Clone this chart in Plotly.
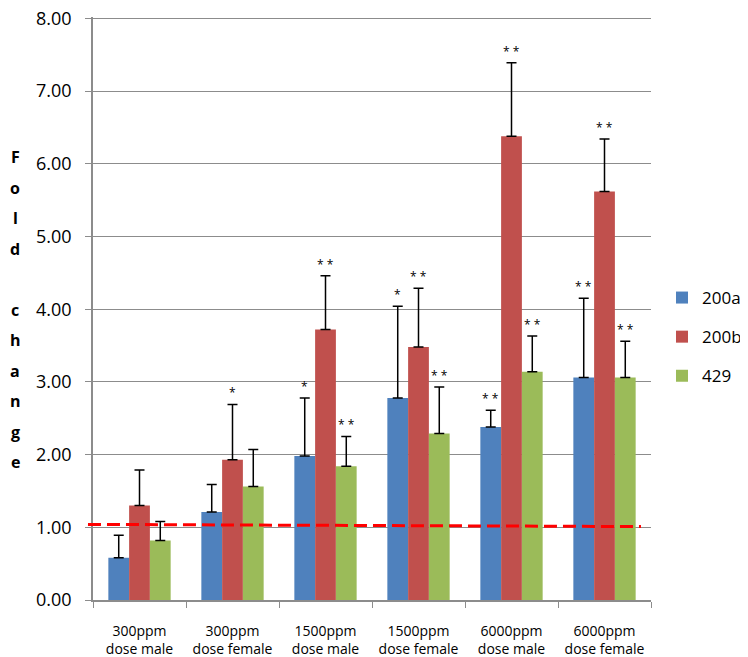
import plotly.graph_objects as go

categories = ["300ppm<br>dose male", "300ppm<br>dose female", "1500ppm<br>dose male",
              "1500ppm<br>dose female", "6000ppm<br>dose male", "6000ppm<br>dose female"]
series_names = ["200a", "200b", "429"]
values_200a = [0.58, 1.21, 1.98, 2.78, 2.38, 3.06]
values_200b = [1.30, 1.93, 3.72, 3.48, 6.38, 5.62]
values_429 = [0.82, 1.56, 1.84, 2.29, 3.14, 3.06]
err_200a = [0.31, 0.38, 0.80, 1.26, 0.23, 1.09]
err_200b = [0.49, 0.76, 0.74, 0.81, 1.01, 0.72]
err_429 = [0.26, 0.51, 0.41, 0.64, 0.49, 0.50]
stars_200a = ["", "", "*", "*", "* *", "* *"]
stars_200b = ["", "*", "* *", "* *", "* *", "* *"]
stars_429 = ["", "", "* *", "* *", "* *", "* *"]
colors = ["#4F81BD", "#C0504D", "#9BBB59"]
ref_line_y = [1.04, 1.01]
y_ticks = [0, 1, 2, 3, 4, 5, 6, 7, 8]
y_title = "Fold change"

values = [values_200a, values_200b, values_429]
errs = [err_200a, err_200b, err_429]
stars = [stars_200a, stars_200b, stars_429]

FONT = "Open Sans"
W, H = 740, 649          # page body has an 8px margin
L, T, PW, PH = 85, 9, 558, 583

fig = go.Figure()
for i, name in enumerate(series_names):
    fig.add_trace(go.Bar(
        x=categories, y=values[i], name=name, marker_color=colors[i],
        marker_line_width=0, legendgroup=name,
        error_y=dict(type="data", array=errs[i], arrayminus=[0] * len(errs[i]),
                     symmetric=False, color="black", thickness=1.5, width=5),
    ))

offsets = [-1, 0, 1]
annotations = []
bar_w = (1 - 0.33) / 3
for i in range(3):
    for j, cat in enumerate(categories):
        if stars[i][j]:
            annotations.append(dict(
                x=j + offsets[i] * bar_w, y=values[i][j] + errs[i][j], xref="x", yref="y",
                text=stars[i][j], showarrow=False, yanchor="bottom", yshift=1,
                font=dict(family=FONT, size=12, color="black")))

# vertical stacked y-axis title
top_px = 149
step = 30.5
for k, ch in enumerate(y_title):
    if ch == " ":
        continue
    ypx = top_px + k * step
    annotations.append(dict(
        x=(7 - L) / PW, y=1 - (ypx - T) / PH, xref="paper", yref="paper", xanchor="center",
        yanchor="middle", text="<b>" + ch + "</b>", showarrow=False,
        font=dict(family=FONT, size=16, color="black")))

fig.update_layout(
    width=W, height=H,
    margin=dict(l=L, r=W - L - PW, t=T, b=H - T - PH, autoexpand=False),
    paper_bgcolor="white", plot_bgcolor="white",
    barmode="group", bargap=0.33, bargroupgap=0,
    font=dict(family=FONT, color="black"),
    showlegend=True,
    legend=dict(x=654 / W, y=1 - 272 / H, xref="container", yref="container",
                xanchor="left", yanchor="top",
                font=dict(family=FONT, size=17, color="black"),
                tracegroupgap=14, itemwidth=30),
    annotations=annotations,
    shapes=[dict(type="line", xref="paper", yref="y", x0=-0.009, x1=0.982,
                 y0=ref_line_y[0], y1=ref_line_y[1],
                 line=dict(color="#FF0000", width=3, dash="13px,6px"), layer="above")],
)
fig.update_yaxes(range=[0, 8.02], tickvals=y_ticks, tickformat=".2f", automargin=False,
                 showgrid=True, gridcolor="#8C8C8C", gridwidth=1,
                 showline=True, linecolor="#8C8C8C", linewidth=1.5,
                 ticks="outside", ticklen=6, tickcolor="#8C8C8C",
                 tickfont=dict(family=FONT, size=18, color="black"),
                 ticklabeloverflow="allow",
                 ticklabelstandoff=10, zeroline=False)
fig.update_xaxes(showline=True, linecolor="#8C8C8C", linewidth=1.5, automargin=False,
                 ticks="outside", ticklen=6, tickcolor="#8C8C8C", tickson="boundaries",
                 tickangle=0,
                 tickfont=dict(family=FONT, size=14, color="black"),
                 ticklabelstandoff=17, showgrid=False)
fig.write_html("out.html")
